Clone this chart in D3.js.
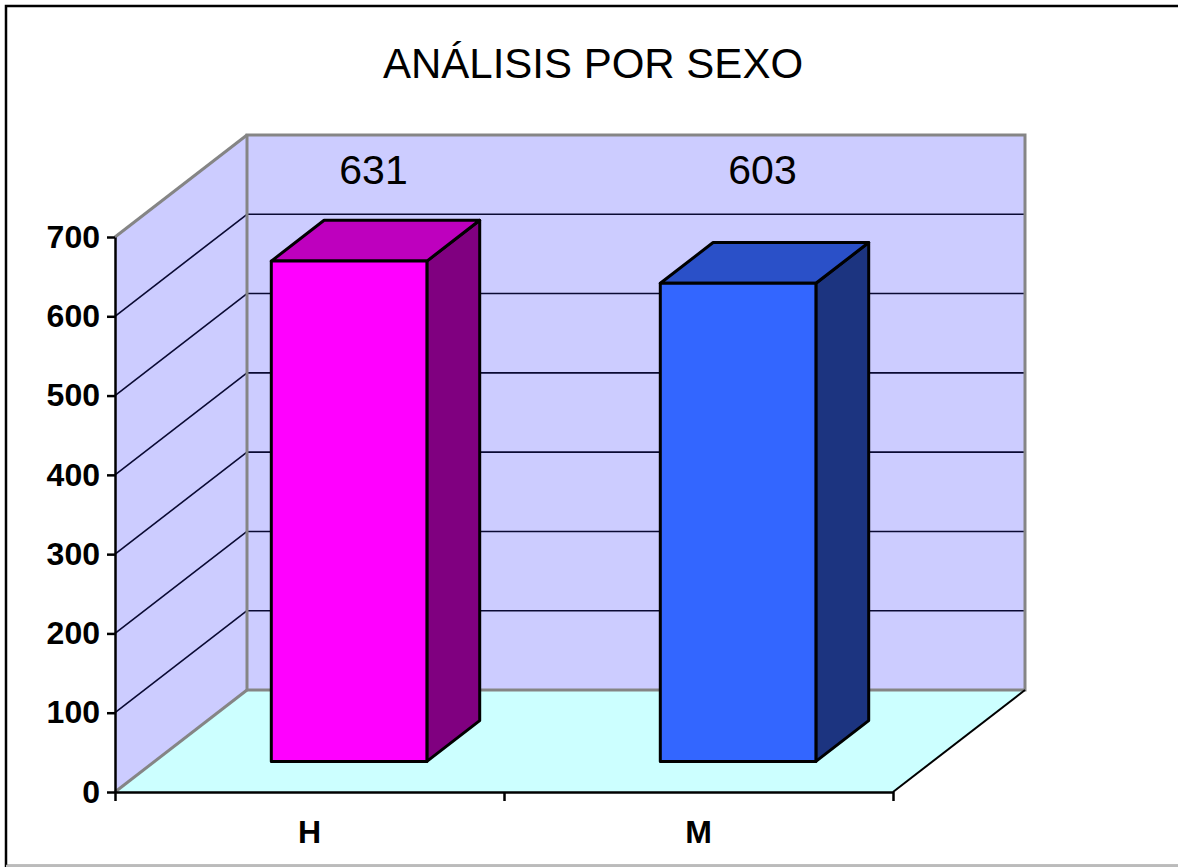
<!DOCTYPE html>
<html>
<head>
<meta charset="utf-8">
<script src="https://cdn.jsdelivr.net/npm/d3@7"></script>
<style>
    body { margin: 0; background: #fff; }
    svg { display: block; }
    text { font-family: 'Liberation Sans', Arial, sans-serif; }
</style>
</head>
<body>
<svg id="chart" width="1178" height="867"></svg>
<script>
let categories = ['H', 'M']
let values = [631, 603]
let valueTicks = [0, 100, 200, 300, 400, 500, 600, 700]
let title = 'ANÁLISIS POR SEXO'

let frontColors = ['#FF00FF', '#3366FF']
let topColors = ['#BE00BE', '#2A50C8']
let sideColors = ['#800080', '#1C3480']

let chart = d3.select('#chart')
let originX = 115
let originY = 792
let plotWidth = 778
let plotHeight = 555
let depthX = 132
let depthY = 102
let barFront = 0.3
let barBack = 0.7

// category scale on the front plane
let xScale = d3.scaleBand()
    .domain(categories)
    .range([0, plotWidth])
    .paddingInner(0.6)
    .paddingOuter(0.3)

// value scale (height in px)
let yScale = d3.scaleLinear()
    .domain([0, 700])
    .range([0, plotHeight])

// 3d point -> screen point
let project = (x, v, d) => [originX + x + d * depthX, originY - yScale(v) - d * depthY]
let poly = (pts) => 'M' + pts.map((p) => p.join(',')).join('L') + 'Z'

// outer frame
chart.append('rect')
    .attr('x', 6).attr('y', 6)
    .attr('width', 1200).attr('height', 860)
    .attr('fill', 'none')
    .attr('stroke', '#000')
    .attr('stroke-width', 2.5)
chart.append('line')
    .attr('x1', 6).attr('x2', 1178).attr('y1', 866).attr('y2', 866)
    .attr('stroke', '#bbb').attr('stroke-width', 2.5)

chart.append('text')
    .attr('x', 593).attr('y', 78)
    .attr('text-anchor', 'middle')
    .attr('font-size', 42)
    .text(title)

let vMax = yScale.domain()[1]

// walls and floor
chart.append('path')
    .attr('d', poly([project(0, 0, 1), project(plotWidth, 0, 1), project(plotWidth, vMax, 1), project(0, vMax, 1)]))
    .attr('fill', '#CCCCFF')
chart.append('path')
    .attr('d', poly([project(0, 0, 0), project(0, 0, 1), project(0, vMax, 1), project(0, vMax, 0)]))
    .attr('fill', '#CCCCFF')
chart.append('path')
    .attr('d', poly([project(0, 0, 0), project(plotWidth, 0, 0), project(plotWidth, 0, 1), project(0, 0, 1)]))
    .attr('fill', '#CCFFFF')

// gridlines on back wall and side wall
let gridValues = valueTicks.filter((v) => v > 0 && v < vMax)
let grid = chart.append('g')
    .attr('stroke', '#0a0a33')
    .attr('stroke-width', 1.6)
    .attr('fill', 'none')
grid.selectAll('.back')
    .data(gridValues)
    .enter()
    .append('path')
    .attr('d', (v) => 'M' + project(0, v, 1) + 'L' + project(plotWidth, v, 1))
grid.selectAll('.side')
    .data(gridValues)
    .enter()
    .append('path')
    .attr('d', (v) => 'M' + project(0, v, 0) + 'L' + project(0, v, 1))

// wall edges
let edges = chart.append('g')
    .attr('stroke', '#858585')
    .attr('stroke-width', 3)
    .attr('fill', 'none')
edges.append('path')
    .attr('d', poly([project(0, 0, 1), project(plotWidth, 0, 1), project(plotWidth, vMax, 1), project(0, vMax, 1)]))
edges.append('path')
    .attr('d', 'M' + project(0, vMax, 0) + 'L' + project(0, vMax, 1))
edges.append('path')
    .attr('d', 'M' + project(0, 0, 0) + 'L' + project(0, 0, 1))
chart.append('path')
    .attr('d', 'M' + project(plotWidth, 0, 0) + 'L' + project(plotWidth, 0, 1))
    .attr('stroke', '#000')
    .attr('stroke-width', 2)

// vertical axis
let yAxisScale = d3.scaleLinear()
    .domain(yScale.domain())
    .range([originY, originY - plotHeight])
let axisLeft = d3.axisLeft(yAxisScale)
    .tickValues(valueTicks)
    .tickSize(8)
    .tickSizeOuter(0)
    .tickPadding(7)
chart.append('g')
    .attr('transform', 'translate(' + originX + ',0)')
    .call(axisLeft)
    .call((g) => g.selectAll('.domain, .tick line').attr('stroke', '#000').attr('stroke-width', 2.5))
    .call((g) => g.selectAll('text')
        .attr('fill', '#000')
        .attr('font-size', 32)
        .attr('font-weight', 'bold')
        .attr('font-family', "'Liberation Sans', Arial, sans-serif"))

// horizontal axis: ticks at category boundaries
let boundaryScale = d3.scaleLinear()
    .domain([0, categories.length])
    .range([0, plotWidth])
let axisBottom = d3.axisBottom(boundaryScale)
    .tickValues(d3.range(categories.length + 1))
    .tickFormat('')
    .tickSize(9)
    .tickSizeOuter(0)
chart.append('g')
    .attr('transform', 'translate(' + originX + ',' + originY + ')')
    .call(axisBottom)
    .call((g) => g.selectAll('.domain, .tick line').attr('stroke', '#000').attr('stroke-width', 2.5))

chart.append('g')
    .selectAll('text')
    .data(categories)
    .enter()
    .append('text')
    .attr('x', (c) => originX + boundaryScale(categories.indexOf(c) + 0.5))
    .attr('y', originY + 51)
    .attr('text-anchor', 'middle')
    .attr('font-size', 32)
    .attr('font-weight', 'bold')
    .text((c) => c)

// bars
let bars = chart.append('g')
    .selectAll('g')
    .data(categories)
    .enter()
    .append('g')
    .attr('stroke', '#000')
    .attr('stroke-width', 3)
    .attr('stroke-linejoin', 'round')

bars.append('path')
    .attr('fill', (c, i) => sideColors[i])
    .attr('d', (c, i) => {
        let x1 = xScale(c) + xScale.bandwidth()
        return poly([project(x1, 0, barFront), project(x1, 0, barBack), project(x1, values[i], barBack), project(x1, values[i], barFront)])
    })
bars.append('path')
    .attr('fill', (c, i) => topColors[i])
    .attr('d', (c, i) => {
        let x0 = xScale(c)
        let x1 = x0 + xScale.bandwidth()
        return poly([project(x0, values[i], barFront), project(x1, values[i], barFront), project(x1, values[i], barBack), project(x0, values[i], barBack)])
    })
bars.append('path')
    .attr('fill', (c, i) => frontColors[i])
    .attr('d', (c, i) => {
        let x0 = xScale(c)
        let x1 = x0 + xScale.bandwidth()
        return poly([project(x0, 0, barFront), project(x1, 0, barFront), project(x1, values[i], barFront), project(x0, values[i], barFront)])
    })

// value labels near the top of the back wall
chart.append('g')
    .selectAll('text')
    .data(categories)
    .enter()
    .append('text')
    .attr('x', (c) => project(xScale(c) + xScale.bandwidth() / 2, 0, 0.5)[0] - 2)
    .attr('y', project(0, vMax, 1)[1] + 49)
    .attr('text-anchor', 'middle')
    .attr('font-size', 41)
    .text((c, i) => values[i])
</script>
</body>
</html>
